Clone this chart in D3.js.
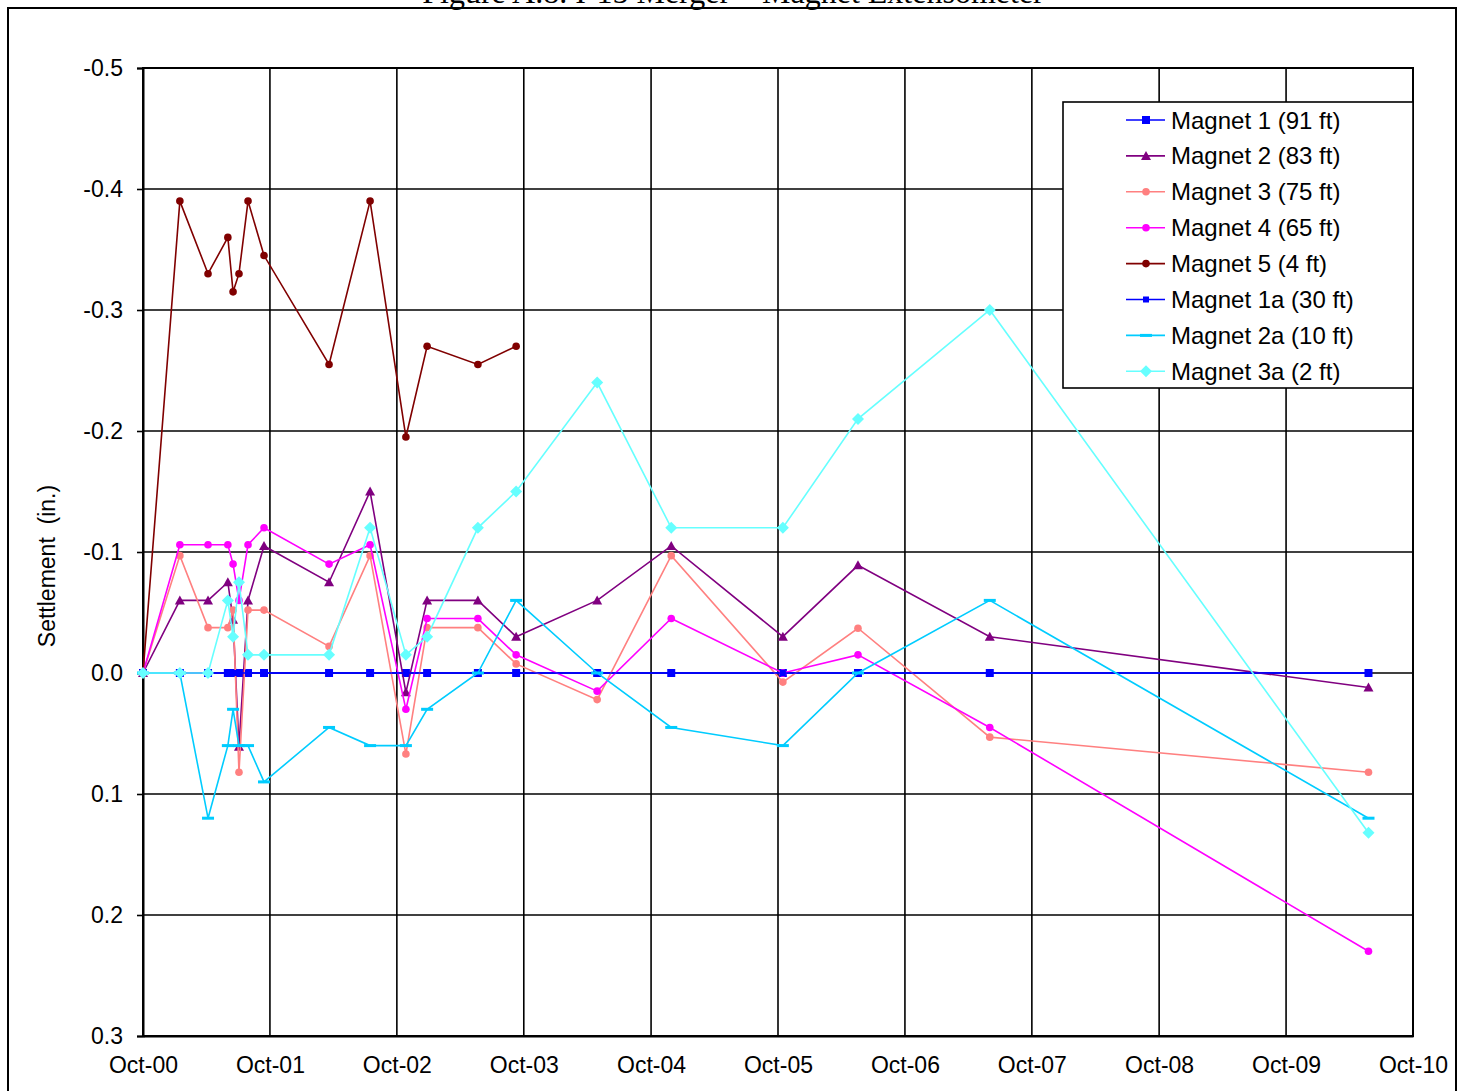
<!DOCTYPE html>
<html>
<head>
<meta charset="utf-8">
<script src="https://cdn.jsdelivr.net/npm/d3@7"></script>
<style>
  html, body { margin: 0; padding: 0; background: #fff; }
  svg { display: block; }
</style>
</head>
<body>
<svg id="chart" width="1459" height="1091"></svg>
<script>
// Survey dates of the magnet extensometer readings
const surveyDates = [
  "2000-10-01", "2001-01-15", "2001-04-06", "2001-06-02", "2001-06-17",
  "2001-07-04", "2001-07-30", "2001-09-14", "2002-03-20", "2002-07-16",
  "2002-10-27", "2002-12-27", "2003-05-22", "2003-09-09", "2004-04-29",
  "2004-11-28", "2005-10-15", "2006-05-19", "2007-06-02", "2010-05-26"
];

// Settlement readings (in.), one value per survey date; null = not read
const magnet1  = [0, 0, 0, 0, 0, 0, 0, 0, 0, 0, 0, 0, 0, 0, 0, 0, 0, 0, 0, 0];
const magnet2  = [0, -0.06, -0.06, -0.075, -0.044, 0.061, -0.06, -0.105, -0.075, -0.15,
                  0.016, -0.06, -0.06, -0.03, -0.06, -0.105, -0.03, -0.089, -0.03, 0.012];
const magnet3  = [0, -0.097, -0.0375, -0.0375, -0.052, 0.082, -0.052, -0.052, -0.022, -0.097,
                  0.067, -0.0375, -0.0375, -0.0075, 0.022, -0.097, 0.0075, -0.037, 0.053, 0.082];
const magnet4  = [0, -0.106, -0.106, -0.106, -0.09, -0.06, -0.106, -0.12, -0.09, -0.106,
                  0.03, -0.045, -0.045, -0.015, 0.015, -0.045, 0, -0.015, 0.045, 0.23];
const magnet5  = [0, -0.39, -0.33, -0.36, -0.315, -0.33, -0.39, -0.345, -0.255, -0.39,
                  -0.195, -0.27, -0.255, -0.27, null, null, null, null, null, null];
const magnet1a = [0, 0, 0, 0, 0, 0, 0, 0, 0, 0, 0, 0, 0, 0, 0, 0, 0, 0, 0, 0];
const magnet2a = [0, 0, 0.12, 0.06, 0.03, 0.06, 0.06, 0.09, 0.045, 0.06,
                  0.06, 0.03, 0, -0.06, 0, 0.045, 0.06, 0, -0.06, 0.12];
const magnet3a = [0, 0, 0, -0.06, -0.03, -0.075, -0.015, -0.015, -0.015, -0.12,
                  -0.015, -0.03, -0.12, -0.15, -0.24, -0.12, -0.12, -0.21, -0.30, 0.132];

const seriesNames = [
  "Magnet 1 (91 ft)", "Magnet 2 (83 ft)", "Magnet 3 (75 ft)", "Magnet 4 (65 ft)",
  "Magnet 5 (4 ft)", "Magnet 1a (30 ft)", "Magnet 2a (10 ft)", "Magnet 3a (2 ft)"
];
const seriesValues = [magnet1, magnet2, magnet3, magnet4, magnet5, magnet1a, magnet2a, magnet3a];
const seriesColors = ["#0000FF", "#800080", "#FF8080", "#FF00FF", "#800000", "#0000FF", "#00CCFF", "#66FFFF"];
const seriesMarkers = ["square", "triangle", "circle", "circle", "circle", "smallSquare", "dash", "diamond"];

// Axis ticks
const yTicks = [-0.5, -0.4, -0.3, -0.2, -0.1, 0.0, 0.1, 0.2, 0.3];
const xTickDates = ["2000-10-01", "2001-10-01", "2002-10-01", "2003-10-01", "2004-10-01", "2005-10-01",
                    "2006-10-01", "2007-10-01", "2008-10-01", "2009-10-01", "2010-10-01"];

const chartTitle = "Figure A.8. I-15 Merger \u2013 Magnet Extensometer";
const yTitle = "Settlement  (in.)";

const parse = d3.timeParse("%Y-%m-%d");
const svg = d3.select("#chart");

const plot = { left: 143, right: 1413, top: 68, bottom: 1036 };
const sans = "'Liberation Sans', Arial, sans-serif";

const x = d3.scaleTime()
  .domain([parse(xTickDates[0]), parse(xTickDates[xTickDates.length - 1])])
  .range([plot.left, plot.right]);
const y = d3.scaleLinear()
  .domain([-0.5, 0.3])
  .range([plot.top, plot.bottom]);

// Outer frame and title
svg.append("rect")
  .attr("x", 8).attr("y", 8).attr("width", 1448).attr("height", 1100)
  .attr("fill", "#fff").attr("stroke", "#000").attr("stroke-width", 2);

svg.append("text")
  .attr("x", 733).attr("y", 3)
  .attr("text-anchor", "middle")
  .attr("font-family", "'Liberation Serif', 'Times New Roman', serif")
  .attr("font-size", 32)
  .text(chartTitle);

// Grid lines
const grid = svg.append("g");
grid.selectAll(".vg").data(xTickDates).join("line")
  .attr("x1", d => x(parse(d))).attr("x2", d => x(parse(d)))
  .attr("y1", plot.top).attr("y2", plot.bottom)
  .attr("stroke", "#000").attr("stroke-width", 1.6);
grid.selectAll(".hg").data(yTicks).join("line")
  .attr("x1", plot.left).attr("x2", plot.right)
  .attr("y1", d => y(d)).attr("y2", d => y(d))
  .attr("stroke", "#000").attr("stroke-width", 1.6);

// Plot border
svg.append("rect")
  .attr("x", plot.left).attr("y", plot.top)
  .attr("width", plot.right - plot.left).attr("height", plot.bottom - plot.top)
  .attr("fill", "none").attr("stroke", "#000").attr("stroke-width", 2);

// Y axis
const yAxis = d3.axisLeft(y)
  .tickValues(yTicks)
  .tickSize(6)
  .tickPadding(14)
  .tickFormat(d3.format(".1f"));
const yg = svg.append("g").attr("transform", `translate(${plot.left},0)`).call(yAxis);
yg.select(".domain").attr("stroke", "#000").attr("stroke-width", 2);
yg.selectAll(".tick line").attr("stroke", "#000").attr("stroke-width", 1.6);
yg.selectAll(".tick text")
  .attr("font-family", sans)
  .attr("font-size", 23).attr("fill", "#000")
  .text(d => d3.format(".1f")(d).replace("\u2212", "-"));

// X axis
const xAxis = d3.axisBottom(x)
  .tickValues(xTickDates.map(parse))
  .tickSize(0)
  .tickPadding(21)
  .tickFormat(d3.timeFormat("Oct-%y"));
const xg = svg.append("g").attr("transform", `translate(0,${plot.bottom})`).call(xAxis);
xg.select(".domain").attr("stroke", "#000").attr("stroke-width", 2);
xg.selectAll(".tick text")
  .attr("font-family", sans)
  .attr("font-size", 23).attr("fill", "#000");

// Y axis title (keeps its double space)
svg.append("text")
  .attr("transform", "translate(55,566) rotate(-90)")
  .attr("text-anchor", "middle")
  .attr("font-family", sans)
  .attr("font-size", 23)
  .style("white-space", "pre")
  .text(yTitle);

// Marker drawing helper
function drawMarker(sel, type, color) {
  if (type === "square") {
    sel.append("rect").attr("x", -4).attr("y", -4).attr("width", 8).attr("height", 8).attr("fill", color);
  } else if (type === "smallSquare") {
    sel.append("rect").attr("x", -3).attr("y", -3).attr("width", 6).attr("height", 6).attr("fill", color);
  } else if (type === "triangle") {
    sel.append("path").attr("d", "M0,-5L5,4L-5,4Z").attr("fill", color);
  } else if (type === "circle") {
    sel.append("circle").attr("r", 3.8).attr("fill", color);
  } else if (type === "dash") {
    sel.append("rect").attr("x", -6).attr("y", -1.5).attr("width", 12).attr("height", 3).attr("fill", color);
  } else if (type === "diamond") {
    sel.append("path").attr("d", "M0,-6L6,0L0,6L-6,0Z").attr("fill", color);
  }
}

// Series lines and markers
const line = d3.line()
  .defined(d => d.v !== null)
  .x(d => x(d.date))
  .y(d => y(d.v));

seriesValues.forEach((vals, i) => {
  const pts = vals.map((v, k) => ({ date: parse(surveyDates[k]), v }));
  const g = svg.append("g");
  g.append("path")
    .datum(pts)
    .attr("d", line)
    .attr("fill", "none")
    .attr("stroke", seriesColors[i])
    .attr("stroke-width", 1.6);
  g.selectAll("g.m").data(pts.filter(d => d.v !== null)).join("g")
    .attr("transform", d => `translate(${x(d.date)},${y(d.v)})`)
    .each(function () { drawMarker(d3.select(this), seriesMarkers[i], seriesColors[i]); });
});

// Legend
const legend = { x: 1063, y: 102, w: 350, h: 286 };
svg.append("rect")
  .attr("x", legend.x).attr("y", legend.y).attr("width", legend.w).attr("height", legend.h)
  .attr("fill", "#fff").attr("stroke", "#000").attr("stroke-width", 1.6);
seriesNames.forEach((name, i) => {
  const cy = 120 + i * 35.9;
  const g = svg.append("g");
  g.append("line")
    .attr("x1", 1126).attr("x2", 1165).attr("y1", cy).attr("y2", cy)
    .attr("stroke", seriesColors[i]).attr("stroke-width", 1.6);
  const m = g.append("g").attr("transform", `translate(1146,${cy})`);
  drawMarker(m, seriesMarkers[i], seriesColors[i]);
  g.append("text")
    .attr("x", 1171).attr("y", cy + 8.5)
    .attr("font-family", sans)
    .attr("font-size", 24)
    .text(name);
});
</script>
</body>
</html>
